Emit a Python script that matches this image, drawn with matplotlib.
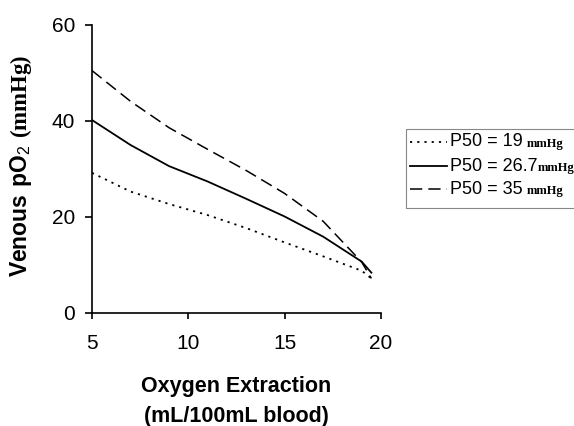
"""
Venous pO2 vs oxygen extraction for three P50 values
"""
import matplotlib
matplotlib.use("Agg")
import matplotlib.pyplot as plt
from matplotlib.patches import Rectangle
from matplotlib.lines import Line2D

# data
extraction = [5, 7, 9, 11, 13, 15, 17, 19, 19.5]
po2_p50_19 = [29.2, 25.3, 22.7, 20.4, 17.7, 14.7, 11.8, 8.8, 7.2]
po2_p50_267 = [40.2, 35.0, 30.6, 27.4, 23.8, 20.1, 15.9, 10.7, 8.4]
po2_p50_35 = [50.5, 44.1, 38.6, 34.1, 29.7, 24.9, 19.1, 10.6, 7.2]
p50_values = ["19", "26.7", "35"]
x_ticks = [5, 10, 15, 20]
y_ticks = [0, 20, 40, 60]

plt.rcParams['font.family'] = ['Liberation Sans', 'DejaVu Sans']
plt.rcParams['mathtext.fontset'] = 'custom'
plt.rcParams['mathtext.bf'] = 'Liberation Sans:bold'
plt.rcParams['mathtext.rm'] = 'Liberation Serif:bold'
plt.rcParams['mathtext.sf'] = 'Liberation Sans'

W, H = 574, 426
fig = plt.figure(figsize=(W / 100, H / 100), dpi=100)
ax = fig.add_axes([92 / W, 1 - 313 / H, (381 - 92) / W, (313 - 25) / H])

styles = [
    dict(linestyle=(0, (1.2, 2.8)), color='black', lw=1.3),
    dict(linestyle='-', color='black', lw=1.3),
    dict(linestyle=(0, (8, 4)), color='black', lw=1.1),
]
series = [po2_p50_19, po2_p50_267, po2_p50_35]
for vals, st in zip(series, styles):
    ax.plot(extraction, vals, **st)

ax.set_xlim(5, 20)
ax.set_ylim(0, 60)
ax.set_xticks(x_ticks)
ax.set_yticks(y_ticks)
for side in ['top', 'right']:
    ax.spines[side].set_visible(False)
for side in ['left', 'bottom']:
    ax.spines[side].set_linewidth(1.2)
ax.tick_params(axis='y', direction='out', length=5, width=1.2, pad=7, labelsize=15)
ax.tick_params(axis='x', direction='out', length=4, width=1.2, pad=11, labelsize=15)

ax.set_xlabel("Oxygen Extraction\n(mL/100mL blood)", fontsize=15.5,
              fontweight='bold', labelpad=17, linespacing=1.55)
ax.set_ylabel(r"$\mathbf{Venous\ pO}_{\mathsf{2}}\ \mathrm{(mmHg)}$", fontsize=16.5)
ax.yaxis.set_label_coords(-0.2, 0.51)

# hand-made legend box, like the original
def fx(px):
    return px / W

def fy(py):
    return 1 - py / H

fig.patches.append(Rectangle((fx(406), fy(208)), fx(200), fy(129) - fy(208),
                             transform=fig.transFigure, fill=False,
                             edgecolor='#888888', lw=0.8))
rows = [142, 166, 189]
fig.canvas.draw()
renderer = fig.canvas.get_renderer()
for p50, st, ry in zip(p50_values, styles, rows):
    fig.lines.append(Line2D([fx(410), fx(447)], [fy(ry), fy(ry)],
                            transform=fig.transFigure, **st))
    t = fig.text(fx(450), fy(ry), f"P50 = {p50}", fontsize=13, va='center')
    bb = t.get_window_extent(renderer)
    gap = 0 if p50 == "26.7" else 4
    fig.text(fx(bb.x1 + gap), fy(ry) - 0.004, "mmHg", fontsize=9,
             fontweight='bold', family='Liberation Serif', va='center')

fig.savefig("out.png", dpi=100)
